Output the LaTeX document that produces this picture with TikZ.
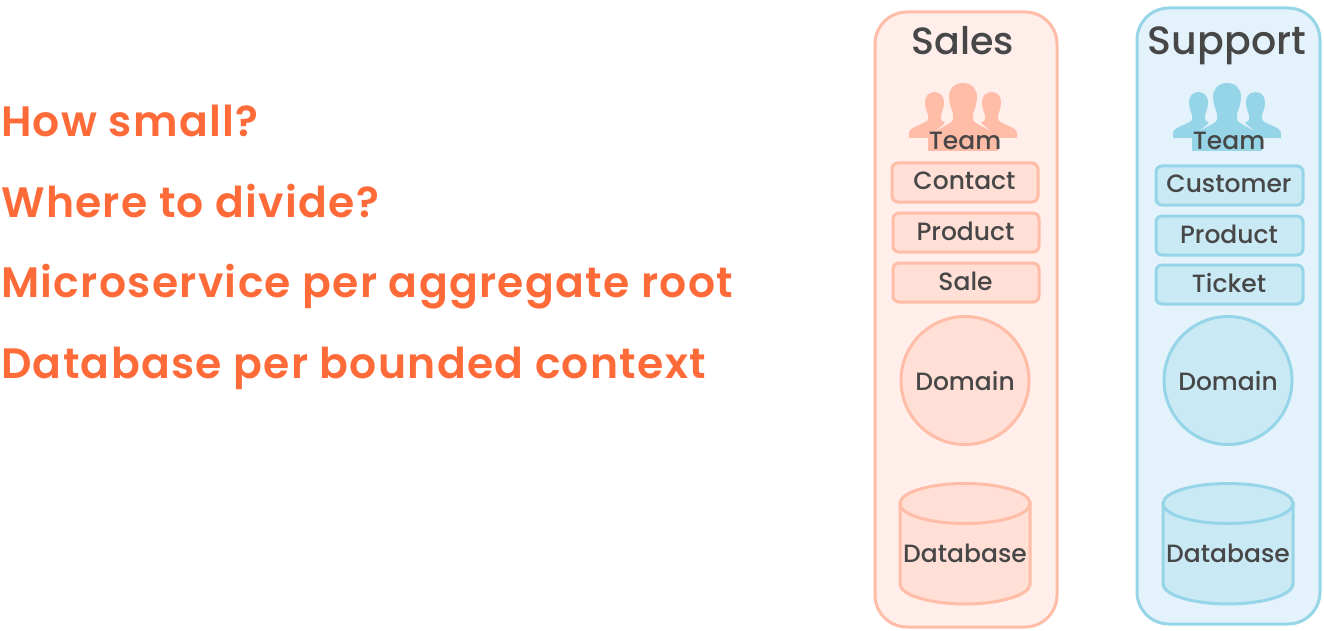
\documentclass[tikz,border=0pt]{standalone}
\usepackage{fontspec}
\setmainfont{Poppins Medium}
\newfontfamily\headfont[LetterSpace=3.1]{Poppins SemiBold}
\definecolor{ored}{HTML}{FF6A39}
\definecolor{ink}{HTML}{474747}
\definecolor{sline}{HTML}{FFBDA8}
\definecolor{sfill}{HTML}{FFEEEA}
\definecolor{sin}{HTML}{FFDFD6}
\definecolor{bline}{HTML}{96D5E8}
\definecolor{bfill}{HTML}{E4F3FB}
\definecolor{bin}{HTML}{C9E9F5}
\newcommand{\teamicon}[3]{%
 \begin{scope}[shift={(#1,#2)}]
  \foreach \m in {1,-1}{
   \fill[#3,xscale=\m] (-28.5,-48) .. controls (-34,-48) and (-38,-44) .. (-38,-38) .. controls (-38,-32) and (-36,-28) .. (-35,-25) -- (-35,-20) .. controls (-40,-15) and (-54,-13) .. (-54,-7) -- (-54,-2) -- (-36,-2) -- (-18,-17) -- (-22,-20) -- (-22,-25) .. controls (-21,-28) and (-19,-32) .. (-19,-38) .. controls (-19,-44) and (-23,-48) .. (-28.5,-48) -- cycle;
  }
  \fill[#3] (0,-57) .. controls (-9,-57) and (-14,-51) .. (-14,-43) .. controls (-14,-36) and (-11,-30) .. (-10,-26) -- (-10,-20) .. controls (-12,-15) and (-35,-8) .. (-35,-2) -- (-35,11) -- (35,11) -- (35,-2) .. controls (35,-8) and (12,-15) .. (10,-20) -- (10,-26) .. controls (11,-30) and (14,-36) .. (14,-43) .. controls (14,-51) and (9,-57) .. (0,-57) -- cycle;
 \end{scope}}
\tikzset{
 x=1pt,y=-1pt,
 lead/.style={anchor=base west,inner sep=0,text=ored,font=\headfont\fontsize{42.5}{43}\selectfont},
 lbl/.style={inner sep=0,text=ink,font=\fontsize{25}{25}\selectfont},
 title/.style={inner sep=0,text=ink,anchor=base,font=\fontsize{38}{38}\selectfont},
 panel/.style={line width=3pt,rounded corners=32pt},
 item/.style={line width=3pt,rounded corners=6pt},
 ring/.style={line width=3pt,circle,minimum size=128pt,inner sep=0},
}
\begin{document}
\begin{tikzpicture}
\useasboundingbox (0,0) rectangle (1324,631);
\fill[white] (0,0) rectangle (1324,631);
\node[lead] (q1) at (1,136.5) {How small?};
\node[lead] (q2) at (1,217) {Where to divide?};
\node[lead] (q3) at (1,297.5) {Microservice per aggregate root};
\node[lead] (q4) at (1,378) {Database per bounded context};
% Sales
\draw[panel,draw=sline,fill=sfill] (875,12) rectangle (1057,627);
\node[title] (salesT) at (963,55) {Sales};
\teamicon{963}{140}{sline}
\node[lbl] (salesTeam) at (965,141) {Team};
\foreach \n/\t/\a/\b/\c/\d in {sa/Contact/892/163/1038/202,sb/Product/893/213/1039/252,sc/Sale/893/263/1039/302}{
 \draw[item,draw=sline,fill=sin] (\a,\b) rectangle (\c,\d);
 \node[lbl] (\n) at ({(\a+\c)/2-0.5},{(\b+\d)/2-1.5}) {\t};
}
\node[ring,draw=sline,fill=sin] (salesD) at (965,380.5) {};
\node[lbl] at (salesD) {Domain};
\draw[line width=3pt,draw=sline,fill=sin] (900,503) -- (900,584) .. controls (900,595) and (930,604) .. (965,604) .. controls (1000,604) and (1030,595) .. (1030,584) -- (1030,503) -- cycle;
\draw[line width=3pt,draw=sline,fill=sin] (965,503.5) ellipse (65 and 20);
\node[lbl] (salesDB) at (965,553) {Database};
% Support
\draw[panel,draw=bline,fill=bfill] (1137,8) rectangle (1320,624);
\node[title,font=\fontsize{39.5}{40}\selectfont] (suppT) at (1227,55) {Support};
\teamicon{1227}{140}{bline}
\node[lbl] (suppTeam) at (1229,141) {Team};
\foreach \n/\t/\a/\b/\c/\d in {ba/Customer/1156/166/1303/205,bb/Product/1156/216/1303/255,bc/Ticket/1156/265/1303/304}{
 \draw[item,draw=bline,fill=bin] (\a,\b) rectangle (\c,\d);
 \node[lbl] (\n) at ({(\a+\c)/2-0.5},{(\b+\d)/2-1.5}) {\t};
}
\node[ring,draw=bline,fill=bin] (suppD) at (1228,380.5) {};
\node[lbl] at (suppD) {Domain};
\draw[line width=3pt,draw=bline,fill=bin] (1163,503) -- (1163,584) .. controls (1163,595) and (1193,604) .. (1228,604) .. controls (1263,604) and (1293,595) .. (1293,584) -- (1293,503) -- cycle;
\draw[line width=3pt,draw=bline,fill=bin] (1228,503.5) ellipse (65 and 20);
\node[lbl] (suppDB) at (1228,553) {Database};
\end{tikzpicture}
\end{document}
